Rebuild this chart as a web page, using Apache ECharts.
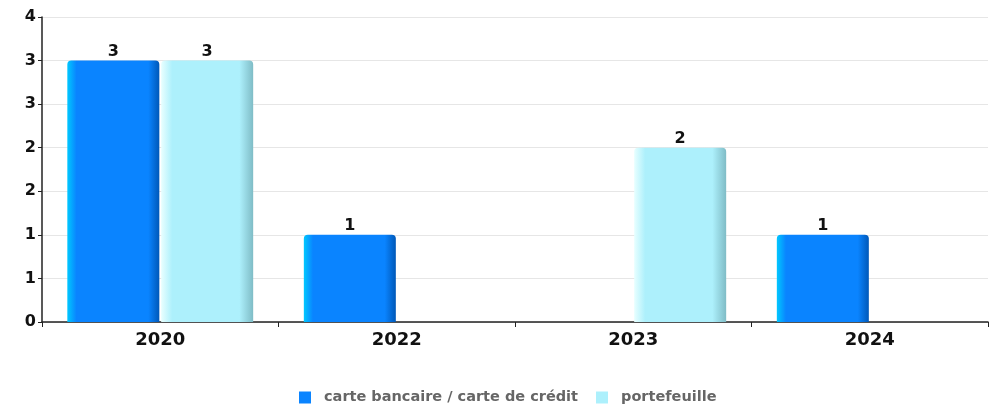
<!DOCTYPE html>
<html><head><meta charset="utf-8">
<script src="https://cdn.jsdelivr.net/npm/echarts@6/dist/echarts.min.js"></script>
<style>html,body{margin:0;padding:0;background:#fff}#c{width:998px;height:406px}</style>
</head><body><div id="c"></div>
<script>
const categories = ['2020', '2022', '2023', '2024'];
const carteValues = [3, 1, null, 1];
const portefeuilleValues = [3, null, 2, null];
const seriesNames = ['carte bancaire / carte de crédit', 'portefeuille'];
const yMin = 0, yMax = 3.5, yInterval = 0.5;

const chart = echarts.init(document.getElementById('c'), null, {renderer: 'canvas'});
function grad(stops) {
  return new echarts.graphic.LinearGradient(0, 0, 1, 0, stops.map(s => ({offset: s[0], color: s[1]})));
}
const blueFill = grad([[0, '#00c8ff'], [0.1, '#0a84ff'], [0.88, '#0a84ff'], [1, '#0058b8']]);
const lightFill = grad([[0, '#e8ffff'], [0.12, '#adf0fc'], [0.85, '#adf0fc'], [1, '#7fbcc6']]);
const labelStyle = {show: true, position: 'top', color: '#111', fontFamily: 'DejaVu Sans', fontWeight: 'bold', fontSize: 16, distance: 1};
chart.setOption({
  animation: false,
  grid: {left: 42, right: 10, top: 17, bottom: 84},
  legend: {
    top: 385, left: 294, itemWidth: 12, itemHeight: 12, itemGap: 18, icon: 'rect',
    textStyle: {color: '#666', fontFamily: 'DejaVu Sans', fontWeight: 'bold', fontSize: 14.5, padding: [0, 0, 0, 8]},
    data: [
      {name: seriesNames[0], itemStyle: {color: '#0a84ff'}},
      {name: seriesNames[1], itemStyle: {color: '#adf0fc'}}
    ]
  },
  xAxis: {
    type: 'category', data: categories,
    axisLine: {lineStyle: {color: '#222', width: 1.5}},
    axisTick: {show: true, length: 5, lineStyle: {color: '#222'}},
    axisLabel: {color: '#111', fontFamily: 'DejaVu Sans', fontWeight: 'bold', fontSize: 18, margin: 9}
  },
  yAxis: {
    type: 'value', min: yMin, max: yMax, interval: yInterval,
    axisLine: {show: true, lineStyle: {color: '#222', width: 1.5}},
    axisTick: {show: true, length: 4, lineStyle: {color: '#222'}},
    splitLine: {lineStyle: {color: '#e6e6e6'}},
    axisLabel: {color: '#111', fontFamily: 'DejaVu Sans', fontWeight: 'bold', fontSize: 16, margin: 6,
      formatter: v => String(Math.round(v))}
  },
  series: [
    {name: seriesNames[0], type: 'bar', data: carteValues, barWidth: 92, barGap: '2%',
     itemStyle: {color: blueFill, borderRadius: [4, 4, 0, 0]}, label: labelStyle},
    {name: seriesNames[1], type: 'bar', data: portefeuilleValues, barWidth: 92, barGap: '2%',
     itemStyle: {color: lightFill, borderRadius: [4, 4, 0, 0]}, label: labelStyle}
  ]
});
</script></body></html>
